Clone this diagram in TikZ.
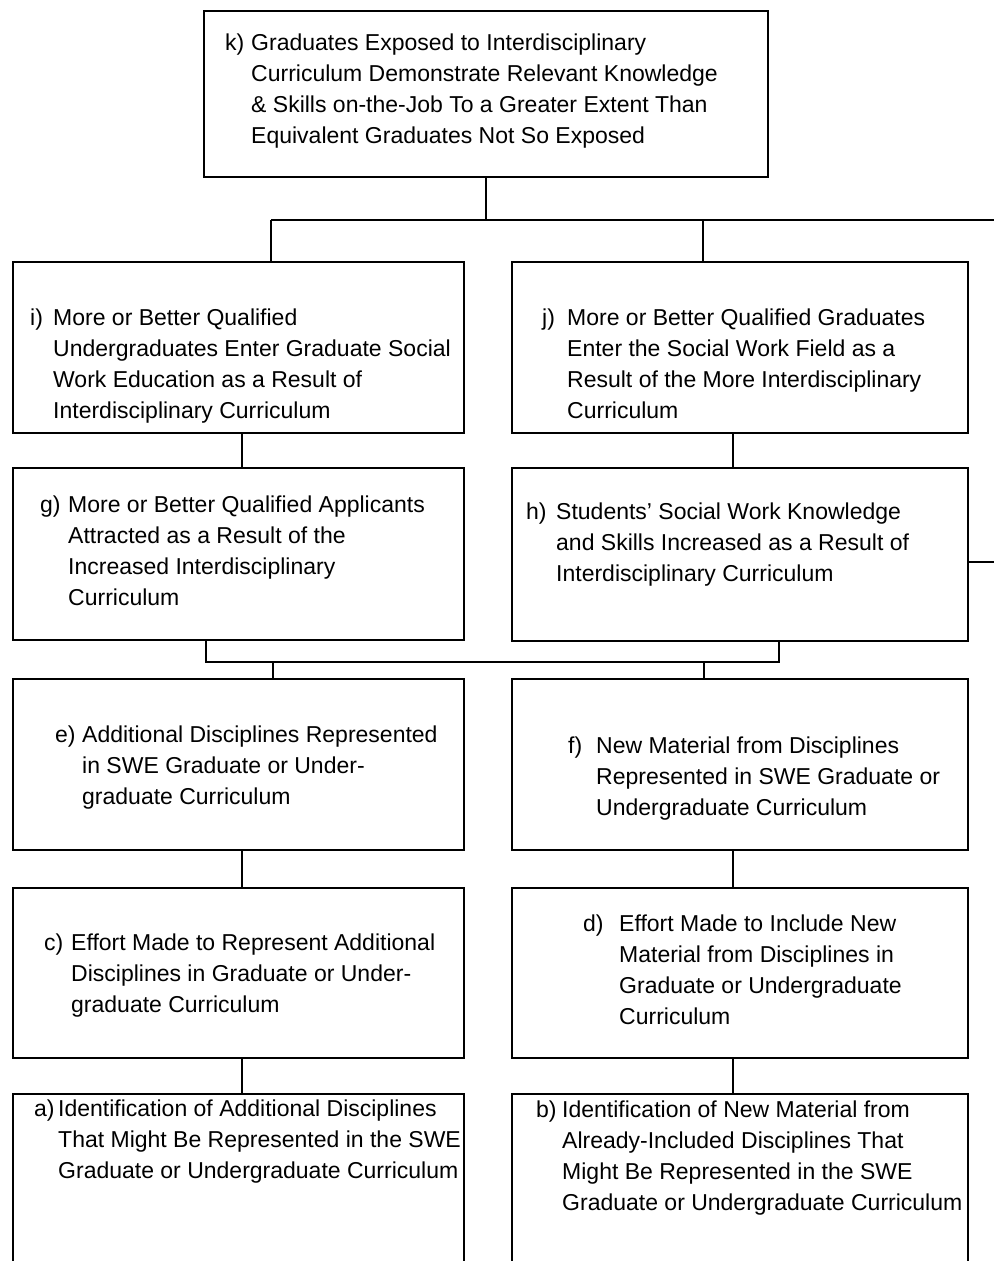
\documentclass[tikz,border=0pt]{standalone}
\usepackage{fontspec}
\setmainfont{Liberation Sans}
\begin{document}
\begin{tikzpicture}[x=1pt,y=-1pt,
  box/.style={draw, line width=2pt, anchor=north west, inner sep=0pt},
  txt/.style={anchor=base west, inner sep=0pt, font=\fontsize{23}{31.3}\selectfont},
  link/.style={line width=2pt}]
\useasboundingbox (0,0) rectangle (994,1261);
\fill[white] (0,0) rectangle (994,1261);
\clip (0,0) rectangle (994,1261);

% outcome boxes
\node[box, minimum width=564pt, minimum height=166pt] (k) at (203,10) {};
\node[box, minimum width=451pt, minimum height=171pt] (i) at (12,261) {};
\node[box, minimum width=456pt, minimum height=171pt] (j) at (511,261) {};
\node[box, minimum width=451pt, minimum height=172pt] (g) at (12,467) {};
\node[box, minimum width=456pt, minimum height=173pt] (h) at (511,467) {};
\node[box, minimum width=451pt, minimum height=171pt] (e) at (12,678) {};
\node[box, minimum width=456pt, minimum height=171pt] (f) at (511,678) {};
\node[box, minimum width=451pt, minimum height=170pt] (c) at (12,887) {};
\node[box, minimum width=456pt, minimum height=170pt] (d) at (511,887) {};
\node[box, minimum width=451pt, minimum height=220pt] (a) at (12,1093) {};
\node[box, minimum width=456pt, minimum height=220pt] (b) at (511,1093) {};

% labels and texts
\node[txt] (k-l) at (225,50) {k)};
\node[txt] (k-t) at (251,50) {\begin{tabular}[t]{@{}l@{}}Graduates Exposed to Interdisciplinary\\Curriculum Demonstrate Relevant Knowledge\\\& Skills on-the-Job To a Greater Extent Than\\Equivalent Graduates Not So Exposed\end{tabular}};

\node[txt] (i-l) at (30,325) {i)};
\node[txt] (i-t) at (53,325) {\begin{tabular}[t]{@{}l@{}}More or Better Qualified\\Undergraduates Enter Graduate Social\\Work Education as a Result of\\Interdisciplinary Curriculum\end{tabular}};

\node[txt] (j-l) at (542,325) {j)};
\node[txt] (j-t) at (567,325) {\begin{tabular}[t]{@{}l@{}}More or Better Qualified Graduates\\Enter the Social Work Field as a\\Result of the More Interdisciplinary\\Curriculum\end{tabular}};

\node[txt] (g-l) at (40,512) {g)};
\node[txt] (g-t) at (68,512) {\begin{tabular}[t]{@{}l@{}}More or Better Qualified Applicants\\Attracted as a Result of the\\Increased Interdisciplinary\\Curriculum\end{tabular}};

\node[txt] (h-l) at (526,519) {h)};
\node[txt] (h-t) at (556,519) {\begin{tabular}[t]{@{}l@{}}Students' Social Work Knowledge\\and Skills Increased as a Result of\\Interdisciplinary Curriculum\end{tabular}};

\node[txt] (e-l) at (55,742) {e)};
\node[txt] (e-t) at (82,742) {\begin{tabular}[t]{@{}l@{}}Additional Disciplines Represented\\in SWE Graduate or Under-\\graduate Curriculum\end{tabular}};

\node[txt] (f-l) at (568,753) {f)};
\node[txt] (f-t) at (596,753) {\begin{tabular}[t]{@{}l@{}}New Material from Disciplines\\Represented in SWE Graduate or\\Undergraduate Curriculum\end{tabular}};

\node[txt] (c-l) at (44,950) {c)};
\node[txt] (c-t) at (71,950) {\begin{tabular}[t]{@{}l@{}}Effort Made to Represent Additional\\Disciplines in Graduate or Under-\\graduate Curriculum\end{tabular}};

\node[txt] (d-l) at (583,931) {d)};
\node[txt] (d-t) at (619,931) {\begin{tabular}[t]{@{}l@{}}Effort Made to Include New\\Material from Disciplines in\\Graduate or Undergraduate\\Curriculum\end{tabular}};

\node[txt] (a-l) at (34,1116) {a)};
\node[txt] (a-t) at (58,1116) {\begin{tabular}[t]{@{}l@{}}Identification of Additional Disciplines\\That Might Be Represented in the SWE\\Graduate or Undergraduate Curriculum\end{tabular}};

\node[txt] (b-l) at (536,1117) {b)};
\node[txt] (b-t) at (562,1117) {\begin{tabular}[t]{@{}l@{}}Identification of New Material from\\Already-Included Disciplines That\\Might Be Represented in the SWE\\Graduate or Undergraduate Curriculum\end{tabular}};

% junction points of the connector bars
\coordinate (t1) at (271,220);
\coordinate (t2) at (703,220);
\coordinate (tr) at (994,220);
\coordinate (m1) at (206,662);
\coordinate (m2) at (779,662);
\coordinate (m3) at (273,662);
\coordinate (m4) at (704,662);
\coordinate (hr) at (994,562);
\coordinate (xl) at (242,0);
\coordinate (xr) at (733,0);

% connectors
\draw[link] (k.south) -- (k.south |- t1);
\draw[link] (t1) -- (tr);
\draw[link] (t1) -- (t1 |- i.north);
\draw[link] (t2) -- (t2 |- j.north);
\draw[link] (i.south -| xl) -- (g.north -| xl);
\draw[link] (j.south -| xr) -- (h.north -| xr);
\draw[link] (g.south -| m1) -- (m1) -- (m2) -- (h.south -| m2);
\draw[link] (m3) -- (m3 |- e.north);
\draw[link] (m4) -- (m4 |- f.north);
\draw[link] (h.east |- hr) -- (hr);
\draw[link] (e.south -| xl) -- (c.north -| xl);
\draw[link] (f.south -| xr) -- (d.north -| xr);
\draw[link] (c.south -| xl) -- (a.north -| xl);
\draw[link] (d.south -| xr) -- (b.north -| xr);
\end{tikzpicture}
\end{document}
